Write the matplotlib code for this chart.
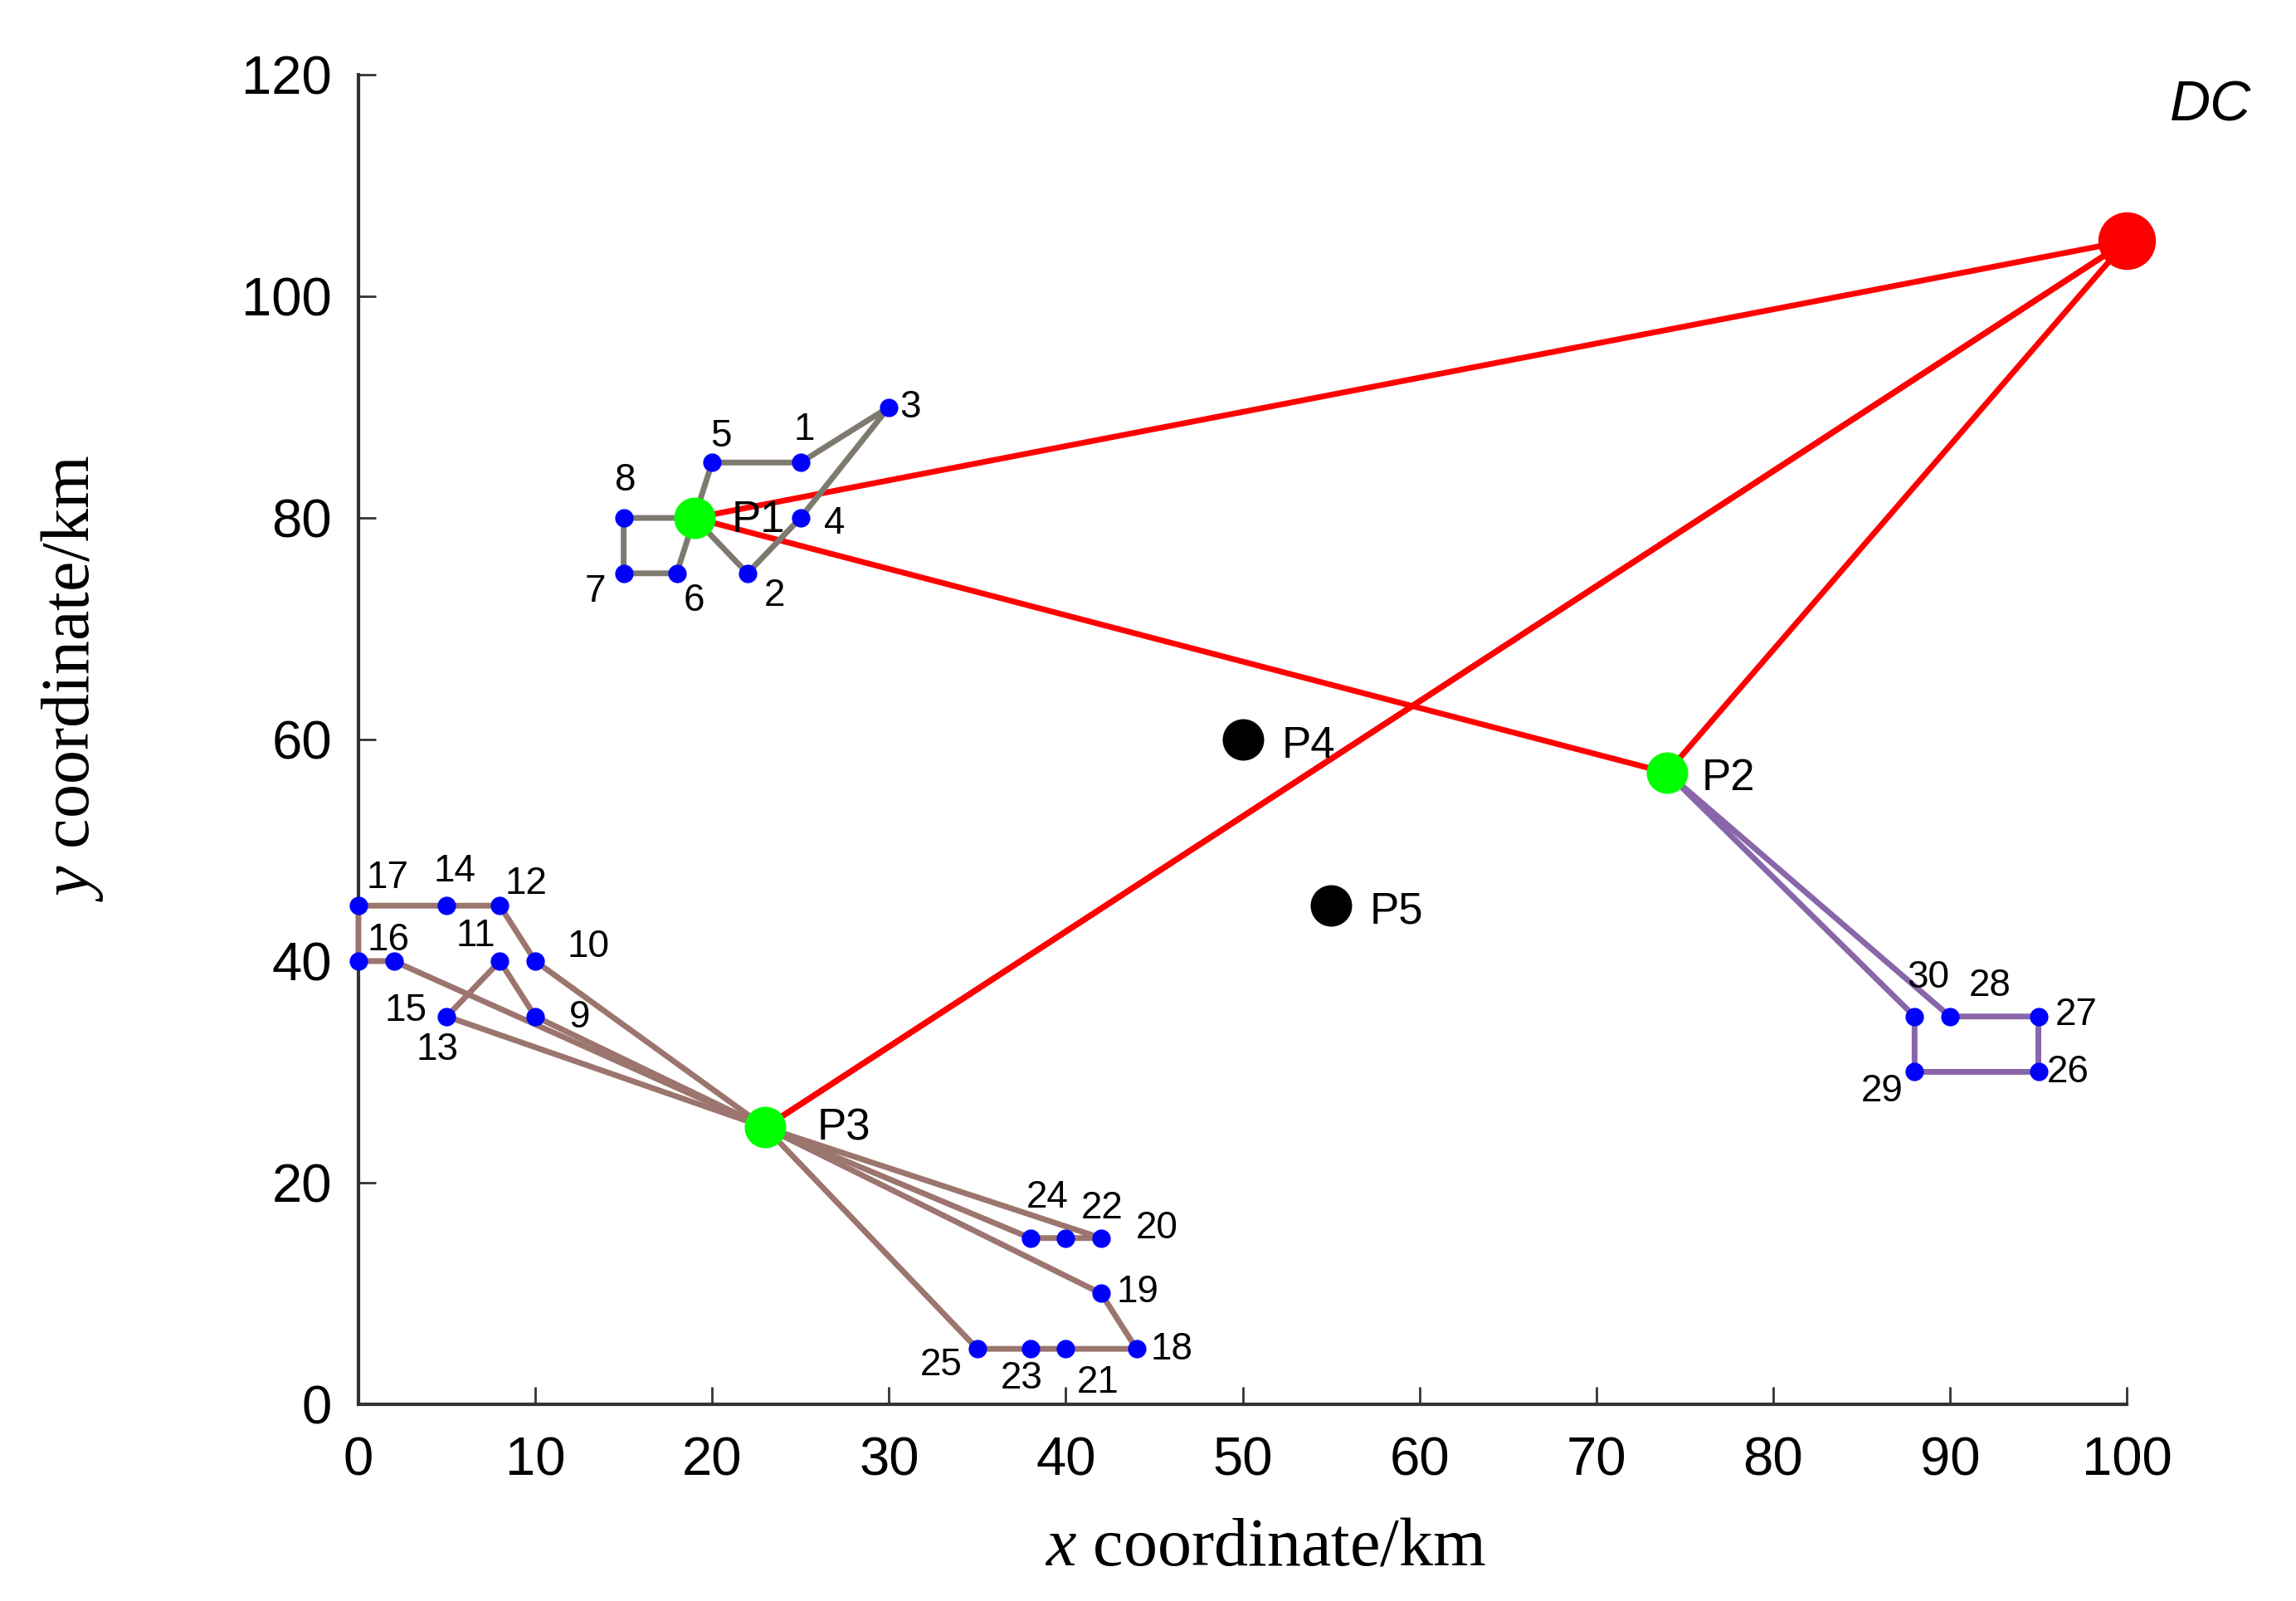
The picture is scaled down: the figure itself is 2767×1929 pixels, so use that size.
import matplotlib
matplotlib.use("Agg")
import matplotlib.pyplot as plt

# ---------------- data ----------------
dc_xy = (100, 105)

center_names = ["P1", "P2", "P3", "P4", "P5"]
center_x = [19, 74, 23, 50, 55]
center_y = [80, 57, 25, 60, 45]
center_used = [True, True, True, False, False]

cust_ids = list(range(1, 31))
cust_x = [25, 22, 30, 25, 20, 18, 15, 15,
          10, 10, 8, 8, 5, 5, 2, 0, 0,
          44, 42, 42, 40, 40, 38, 38, 35,
          95, 95, 90, 88, 88]
cust_y = [85, 75, 90, 80, 85, 75, 75, 80,
          35, 40, 40, 45, 35, 45, 40, 40, 45,
          5, 10, 15, 5, 15, 5, 15, 5,
          30, 35, 35, 30, 35]

# delivery routes: (center, customer sequence) ; each route returns to its center
routes = [
    ("P1", [5, 1, 3, 4, 2]),
    ("P1", [8, 7, 6]),
    ("P2", [30, 29, 26, 27, 28]),
    ("P3", [15, 16, 17, 14, 12, 10]),
    ("P3", [13, 11, 9]),
    ("P3", [24, 22, 20]),
    ("P3", [19, 18, 21, 23, 25]),
]
# DC trunk routes
trunk_routes = [["P1", "P2"], ["P3"]]

# ---------------- styling ----------------
route_colors = {"P1": "#7f7a6f", "P2": "#8966a9", "P3": "#9c756f"}

# label offsets in pixels (dx right, dy down) relative to the point
cust_label_off = {
    1: (5, -27), 2: (33, 39), 3: (26, 12), 4: (41, 19), 5: (11, -19),
    6: (21, 45), 7: (-34, 34), 8: (2, -33),
    9: (54, 13), 10: (64, -5), 11: (-29, -18), 12: (32, -14), 13: (-11, 52),
    14: (10, -29), 15: (14, 72), 16: (36, -13), 17: (35, -21),
    18: (42, 13), 19: (44, 11), 20: (67, 0), 21: (39, 53), 22: (44, -24),
    23: (-11, 48), 24: (20, -37), 25: (-44, 32),
    26: (36, 13), 27: (46, 10), 28: (48, -25), 29: (-39, 36), 30: (16, -35),
}
center_label_off = {"P1": (77, 17), "P2": (74, 21), "P3": (95, 15),
                    "P4": (79, 22), "P5": (79, 21)}
PX = 0.72  # points per pixel at dpi 100

plt.rcParams["mathtext.fontset"] = "custom"
plt.rcParams["mathtext.rm"] = "Liberation Serif"
plt.rcParams["mathtext.it"] = "Liberation Serif:italic"

fig = plt.figure(figsize=(27.67, 19.29), dpi=100)
ax = fig.add_axes([0.1561, 0.1229, 0.7702, 0.8304])

cxy = {n: (x, y) for n, x, y in zip(center_names, center_x, center_y)}
cust = {i: (x, y) for i, x, y in zip(cust_ids, cust_x, cust_y)}

LW = 5
# trunk (red) lines
for tr in trunk_routes:
    pts = [dc_xy] + [cxy[n] for n in tr] + [dc_xy]
    ax.plot([p[0] for p in pts], [p[1] for p in pts], color="#ff0000",
            lw=LW, solid_capstyle="round", zorder=2, clip_on=False)

# delivery routes
for c, seq in routes:
    pts = [cxy[c]] + [cust[i] for i in seq] + [cxy[c]]
    ax.plot([p[0] for p in pts], [p[1] for p in pts], color=route_colors[c],
            lw=LW, solid_joinstyle="round", zorder=3, clip_on=False)

# customers
ax.plot(cust_x, cust_y, "o", color="#0000ff", ms=16, mec="none", zorder=5, clip_on=False)

# centers
for n, x, y, u in zip(center_names, center_x, center_y, center_used):
    ax.plot([x], [y], "o", color="#00ff00" if u else "#000000", ms=36,
            mec="none", zorder=6, clip_on=False)

# DC
ax.plot([dc_xy[0]], [dc_xy[1]], "o", color="#ff0000", ms=50, mec="none",
        zorder=6, clip_on=False)
ax.annotate("DC", dc_xy, xytext=(37, 104), textcoords="offset points",
            fontsize=49, fontstyle="italic", family="Liberation Sans",
            ha="left", va="baseline", annotation_clip=False)

# labels
for i in cust_ids:
    dx, dy = cust_label_off[i]
    ax.annotate(str(i), cust[i], xytext=(dx * PX, -dy * PX), textcoords="offset points",
                fontsize=33, family="Liberation Sans", ha="center", va="baseline",
                zorder=7, annotation_clip=False)
for n in center_names:
    dx, dy = center_label_off[n]
    ax.annotate(n, cxy[n], xytext=(dx * PX, -dy * PX), textcoords="offset points",
                fontsize=38, family="Liberation Sans", ha="center", va="baseline",
                zorder=7, annotation_clip=False)

# axes
ax.set_xlim(0, 100)
ax.set_ylim(0, 120)
ax.set_xticks(range(0, 101, 10))
ax.set_yticks(range(0, 121, 20))
for s in ["top", "right"]:
    ax.spines[s].set_visible(False)
for s in ["left", "bottom"]:
    ax.spines[s].set_linewidth(3)
    ax.spines[s].set_color("#333333")
ax.tick_params(axis="both", direction="in", length=15, width=2, color="#333333",
               labelsize=47)
ax.tick_params(axis="x", pad=28)
ax.tick_params(axis="y", pad=23)
for lab in ax.get_xticklabels() + ax.get_yticklabels():
    lab.set_family("Liberation Sans")

ax.set_xlabel(r"$\it{x}$ coordinate/km", fontsize=59, family="Liberation Serif")
ax.set_ylabel(r"$\it{y}$ coordinate/km", fontsize=59, family="Liberation Serif")
ax.xaxis.set_label_coords(0.513, -0.085)
ax.yaxis.set_label_coords(-0.143, 0.546)

fig.savefig("out.png", dpi=100)
